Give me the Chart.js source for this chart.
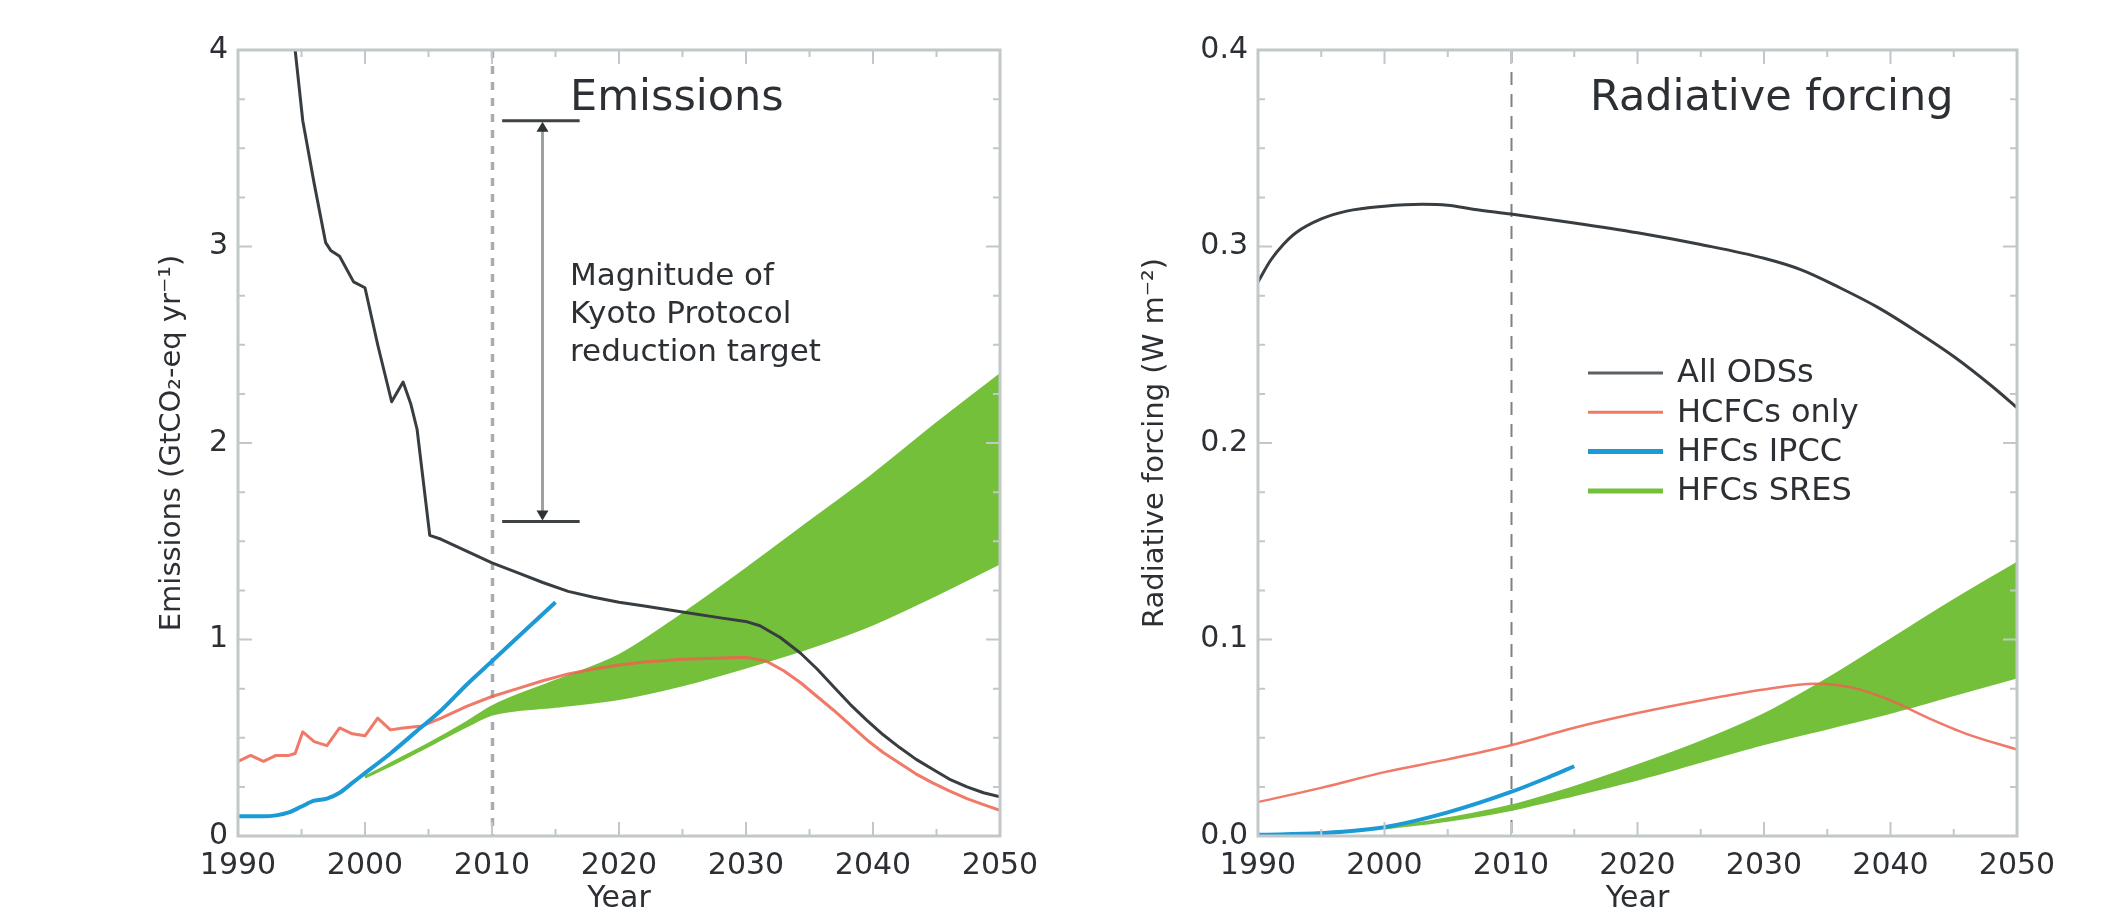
<!DOCTYPE html>
<html>
<head>
<meta charset="utf-8">
<script src="https://cdn.jsdelivr.net/npm/chart.js@4.4.1/dist/chart.umd.min.js"></script>
<style>
  html, body { margin: 0; padding: 0; background: #fff; }
  #wrap { position: relative; width: 2110px; height: 915px; overflow: hidden; }
  canvas { position: absolute; top: 0; }
  #left { left: 0; }
  #right { left: 1055px; }
</style>
</head>
<body>
<div id="wrap">
  <canvas id="left" width="1055" height="915"></canvas>
  <canvas id="right" width="1055" height="915"></canvas>
</div>
<script>
// ---- Emissions panel (GtCO2-eq yr-1) ----
const emisOdsYears = [1994, 1994.5, 1995.1, 1996, 1996.9, 1997.3, 1998, 1999.1, 2000, 2001, 2002.1, 2003, 2003.6, 2004.1, 2004.6, 2005.1, 2006, 2008, 2010, 2012, 2014, 2016, 2018, 2020, 2022, 2025, 2028, 2030.1, 2031.1, 2032.7, 2034.3, 2035.6, 2036.9, 2038.2, 2039.5, 2040.8, 2042.1, 2043.4, 2044.7, 2046, 2047.4, 2048.7, 2050];
const emisOds      = [4.35, 4.0, 3.64, 3.32, 3.02, 2.98, 2.95, 2.82, 2.79, 2.5, 2.21, 2.31, 2.2, 2.07, 1.8, 1.53, 1.51, 1.45, 1.39, 1.34, 1.29, 1.245, 1.215, 1.19, 1.17, 1.14, 1.11, 1.09, 1.07, 1.01, 0.93, 0.85, 0.76, 0.67, 0.59, 0.515, 0.45, 0.39, 0.34, 0.29, 0.25, 0.22, 0.20];

const emisHcfcYears = [1990, 1991, 1992, 1993, 1994, 1994.5, 1995.1, 1996, 1997, 1998, 1999, 2000, 2001, 2002, 2003, 2004.5, 2006, 2008, 2010, 2012, 2014, 2016, 2018, 2020, 2022, 2025, 2030, 2031.6, 2033, 2034.3, 2035.6, 2036.9, 2038.2, 2039.5, 2040.8, 2042.1, 2043.4, 2044.7, 2046, 2047.4, 2048.7, 2050];
const emisHcfc      = [0.38, 0.41, 0.38, 0.41, 0.41, 0.42, 0.53, 0.48, 0.46, 0.55, 0.52, 0.51, 0.60, 0.54, 0.55, 0.56, 0.60, 0.66, 0.71, 0.75, 0.79, 0.825, 0.85, 0.87, 0.885, 0.90, 0.91, 0.89, 0.84, 0.78, 0.71, 0.64, 0.565, 0.49, 0.425, 0.37, 0.315, 0.27, 0.23, 0.19, 0.16, 0.13];

const emisIpccYears = [1990, 1992, 1993, 1994, 1995, 1996, 1997, 1998, 1999, 2000, 2002, 2004, 2006, 2008, 2010, 2012, 2015];
const emisIpcc      = [0.10, 0.10, 0.105, 0.12, 0.15, 0.18, 0.19, 0.22, 0.27, 0.32, 0.42, 0.53, 0.64, 0.77, 0.89, 1.01, 1.19];

const emisSresYears = [2000, 2002, 2005, 2008, 2010, 2015, 2020, 2025, 2030, 2035, 2040, 2045, 2050];
const emisSresLow   = [0.30, 0.36, 0.46, 0.56, 0.62, 0.66, 0.70, 0.77, 0.86, 0.96, 1.08, 1.23, 1.39];
const emisSresHigh  = [0.30, 0.37, 0.47, 0.58, 0.66, 0.79, 0.92, 1.13, 1.36, 1.60, 1.84, 2.10, 2.35];

// Kyoto bracket, in data units
const kyotoTop = 3.64;
const kyotoBottom = 1.60;
const kyotoYears = [2010.8, 2013.9, 2016.9]; // bar start, arrow, bar end
const kyotoText = ['Magnitude of', 'Kyoto Protocol', 'reduction target'];

// ---- Radiative forcing panel (W m-2) ----
const rfOdsYears = [1990, 1991, 1992, 1993, 1995, 1997, 2000, 2003, 2005, 2007, 2010, 2015, 2020, 2025, 2030, 2033, 2036, 2039, 2042, 2045, 2048, 2050];
const rfOds      = [0.282, 0.293, 0.301, 0.307, 0.314, 0.318, 0.3205, 0.3215, 0.321, 0.319, 0.3165, 0.312, 0.307, 0.301, 0.294, 0.288, 0.279, 0.269, 0.257, 0.244, 0.229, 0.218];

const rfHcfcYears = [1990, 1995, 2000, 2005, 2010, 2015, 2020, 2025, 2030, 2034, 2037, 2040, 2043, 2046, 2050];
const rfHcfc      = [0.0173, 0.0245, 0.0325, 0.039, 0.0462, 0.0551, 0.0626, 0.069, 0.0745, 0.0775, 0.0755, 0.069, 0.060, 0.052, 0.044];

const rfIpccYears = [1990, 1995, 2000, 2005, 2010, 2013, 2015];
const rfIpcc      = [0.0006, 0.0015, 0.0045, 0.012, 0.0224, 0.030, 0.0355];

const rfSresYears = [2000, 2005, 2010, 2015, 2020, 2025, 2030, 2035, 2040, 2045, 2050];
const rfSresLow   = [0.004, 0.008, 0.0135, 0.021, 0.029, 0.038, 0.047, 0.055, 0.063, 0.072, 0.081];
const rfSresHigh  = [0.004, 0.009, 0.0155, 0.025, 0.036, 0.048, 0.062, 0.080, 0.100, 0.120, 0.139];

const legendLabels = ['All ODSs', 'HCFCs only', 'HFCs IPCC', 'HFCs SRES'];
const markYear = 2010;

const BLACK = '#383d41';
const RED = 'rgba(237, 98, 76, 0.85)';
const BLUE = '#1b9ad6';
const GREEN = '#74c03a';
const TEXT = '#2c3034';
const FRAME = '#c2c7ca';
const FONT = 'DejaVu Sans';

Chart.defaults.font.family = FONT;

function pts(xs, ys) {
    return xs.map((x, i) => ({x: x, y: ys[i]}));
}

// smooth = monotone cubic; otherwise straight segments (for the jagged historical records)
function line(label, xs, ys, color, width, order, smooth) {
    const ds = {
        label, data: pts(xs, ys), borderColor: color, borderWidth: width,
        pointRadius: 0, fill: false, order, tension: 0, borderJoinStyle: 'round'
    };
    if (smooth) ds.cubicInterpolationMode = 'monotone';
    return ds;
}

function band(label, xs, low, high) {
    return [
        {label, data: pts(xs, high), borderColor: GREEN, borderWidth: 2, backgroundColor: GREEN,
         pointRadius: 0, fill: '+1', order: 10, cubicInterpolationMode: 'monotone'},
        {label: label + ' low', data: pts(xs, low), borderColor: GREEN, borderWidth: 3,
         pointRadius: 0, fill: false, order: 10, cubicInterpolationMode: 'monotone'}
    ];
}

// frame, inward ticks on all sides, dashed 2010 line, panel title
function decor(title, yMinor, yMajor, dashStyle, extra) {
    return {
        id: 'decor',
        beforeDatasetsDraw(chart) {
            const {ctx, chartArea: a, scales: {x}} = chart;
            const px = Math.round(x.getPixelForValue(markYear)) + 0.5;
            ctx.save();
            ctx.strokeStyle = dashStyle.color;
            ctx.lineWidth = dashStyle.width;
            ctx.setLineDash(dashStyle.dash);
            ctx.beginPath();
            ctx.moveTo(px, a.top);
            ctx.lineTo(px, a.bottom);
            ctx.stroke();
            ctx.restore();
        },
        afterDatasetsDraw(chart) {
            const {ctx, chartArea: a, scales: {x, y}} = chart;
            ctx.save();
            ctx.strokeStyle = FRAME;
            ctx.lineWidth = 2;
            for (let yr = 1995; yr < 2050; yr += 5) {
                const px = x.getPixelForValue(yr);
                const len = yr % 10 === 0 ? 14 : 7;
                ctx.beginPath();
                ctx.moveTo(px, a.bottom); ctx.lineTo(px, a.bottom - len);
                ctx.moveTo(px, a.top); ctx.lineTo(px, a.top + len);
                ctx.stroke();
            }
            const n = Math.round((y.max - y.min) / yMinor);
            for (let i = 1; i < n; i++) {
                const v = y.min + i * yMinor;
                const py = y.getPixelForValue(v);
                const major = Math.abs(v / yMajor - Math.round(v / yMajor)) < 1e-6;
                const len = major ? 14 : 7;
                ctx.beginPath();
                ctx.moveTo(a.left, py); ctx.lineTo(a.left + len, py);
                ctx.moveTo(a.right, py); ctx.lineTo(a.right - len, py);
                ctx.stroke();
            }
            ctx.lineWidth = 3;
            ctx.strokeRect(a.left, a.top, a.right - a.left, a.bottom - a.top);

            ctx.fillStyle = TEXT;
            ctx.font = '43px "' + FONT + '"';
            ctx.textBaseline = 'alphabetic';
            ctx.textAlign = 'left';
            ctx.fillText(title, a.left + 332, a.top + 60);
            ctx.restore();
            if (extra) extra(chart);
        }
    };
}

function drawKyoto(chart) {
    const {ctx, chartArea: a, scales: {x, y}} = chart;
    const x0 = x.getPixelForValue(kyotoYears[0]);
    const xa = Math.round(x.getPixelForValue(kyotoYears[1])) + 0.5;
    const x1 = x.getPixelForValue(kyotoYears[2]);
    const yt = y.getPixelForValue(kyotoTop);
    const yb = y.getPixelForValue(kyotoBottom);
    ctx.save();
    ctx.strokeStyle = '#9ca1a4';
    ctx.lineWidth = 3;
    ctx.beginPath();
    ctx.moveTo(xa, yt + 8); ctx.lineTo(xa, yb - 8);
    ctx.stroke();
    ctx.strokeStyle = '#3d4245';
    ctx.beginPath();
    ctx.moveTo(x0, yt); ctx.lineTo(x1, yt);
    ctx.moveTo(x0, yb); ctx.lineTo(x1, yb);
    ctx.stroke();
    ctx.fillStyle = '#2f3336';
    ctx.beginPath();
    ctx.moveTo(xa, yt + 1); ctx.lineTo(xa - 6, yt + 11); ctx.lineTo(xa + 6, yt + 11); ctx.closePath();
    ctx.moveTo(xa, yb - 1); ctx.lineTo(xa - 6, yb - 11); ctx.lineTo(xa + 6, yb - 11); ctx.closePath();
    ctx.fill();
    ctx.fillStyle = TEXT;
    ctx.font = '31px "' + FONT + '"';
    ctx.textAlign = 'left';
    ctx.textBaseline = 'alphabetic';
    kyotoText.forEach((t, i) => ctx.fillText(t, a.left + 332, a.top + 235 + i * 38));
    ctx.restore();
}

function drawLegend(chart) {
    const {ctx, chartArea: a} = chart;
    const swatches = [
        {color: '#5a6064', width: 3},
        {color: '#ef7a66', width: 3},
        {color: BLUE, width: 5},
        {color: GREEN, width: 5}
    ];
    ctx.save();
    ctx.font = '32px "' + FONT + '"';
    ctx.fillStyle = TEXT;
    ctx.textAlign = 'left';
    ctx.textBaseline = 'middle';
    legendLabels.forEach((lab, i) => {
        const py = a.top + 323 + i * 39.3;
        ctx.strokeStyle = swatches[i].color;
        ctx.lineWidth = swatches[i].width;
        ctx.beginPath();
        ctx.moveTo(a.left + 330, py); ctx.lineTo(a.left + 405, py);
        ctx.stroke();
        ctx.fillText(lab, a.left + 419, py + 1);
    });
    ctx.restore();
}

function axes(yMax, yStep, yTitle, yFmt, yWidth, yTitlePad) {
    const tickFont = {family: FONT, size: 30};
    return {
        x: {
            type: 'linear', min: 1990, max: 2050,
            grid: {display: false, drawTicks: false}, border: {display: false},
            ticks: {stepSize: 10, callback: v => String(v), font: tickFont, color: TEXT,
                    padding: 12, maxRotation: 0, autoSkip: false},
            title: {display: true, text: 'Year', font: tickFont, color: TEXT, padding: {top: 0, bottom: -2}},
            afterFit: s => { s.height = 79; }
        },
        y: {
            min: 0, max: yMax,
            grid: {display: false, drawTicks: false}, border: {display: false},
            ticks: {stepSize: yStep, callback: yFmt, font: tickFont, color: TEXT, padding: 10},
            title: {display: true, text: yTitle, font: {family: FONT, size: 29}, color: TEXT,
                    padding: {top: yTitlePad, bottom: 0}},
            afterFit: s => { s.width = yWidth; }
        }
    };
}

const common = {
    responsive: false,
    animation: false,
    plugins: {legend: {display: false}, tooltip: {enabled: false}}
};

new Chart(document.getElementById('left'), {
    type: 'line',
    data: {
        datasets: [
            ...band('HFCs SRES', emisSresYears, emisSresLow, emisSresHigh),
            line('All ODSs', emisOdsYears, emisOds, BLACK, 3, 2, false),
            line('HCFCs only', emisHcfcYears, emisHcfc, RED, 3, 1, false),
            line('HFCs IPCC', emisIpccYears, emisIpcc, BLUE, 4, 0, true)
        ]
    },
    options: {
        ...common,
        layout: {padding: {top: 50, right: 55, left: 0, bottom: 0}},
        scales: axes(4, 1, 'Emissions (GtCO\u2082-eq yr\u207B\u00B9)', v => String(v), 238, 155)
    },
    plugins: [decor('Emissions', 0.25, 1, {color: '#a9adb0', width: 3.5, dash: [8, 8]}, drawKyoto)]
});

new Chart(document.getElementById('right'), {
    type: 'line',
    data: {
        datasets: [
            ...band('HFCs SRES', rfSresYears, rfSresLow, rfSresHigh),
            line('All ODSs', rfOdsYears, rfOds, BLACK, 3, 2, true),
            line('HCFCs only', rfHcfcYears, rfHcfc, RED, 2.5, 1, true),
            line('HFCs IPCC', rfIpccYears, rfIpcc, BLUE, 4, 0, true)
        ]
    },
    options: {
        ...common,
        layout: {padding: {top: 50, right: 93, left: 0, bottom: 0}},
        scales: axes(0.4, 0.1, 'Radiative forcing (W m\u207B\u00B2)', v => v.toFixed(1), 203, 83)
    },
    plugins: [decor('Radiative forcing', 0.025, 0.1, {color: '#7d8286', width: 2, dash: [13, 9]}, drawLegend)]
});
</script>
</body>
</html>
